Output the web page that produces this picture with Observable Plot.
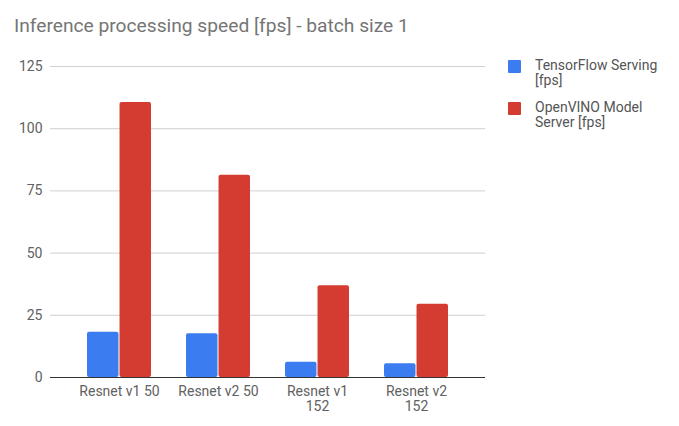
<!DOCTYPE html>
<html>
<head>
<meta charset="utf-8">
<script src="https://cdn.jsdelivr.net/npm/d3@7"></script>
<script src="https://cdn.jsdelivr.net/npm/@observablehq/plot@0.6"></script>
<style>
  body { margin: 0; background: #fff; font-family: Roboto, "Noto Sans", sans-serif; }
  #wrap { position: relative; width: 679px; height: 426px; }
  #title { position: absolute; left: 14px; top: 14px; font-size: 19.2px; color: #757575; white-space: nowrap; }
  #chart { position: absolute; left: 0; top: 50px; }
  #legend { position: absolute; left: 508px; top: 58px; font-size: 14px; color: #555; line-height: 15px; }
  .item { position: relative; padding-left: 27px; margin-bottom: 12px; }
  .sw { position: absolute; left: 0; top: 2px; width: 13px; height: 13px; border-radius: 1px; }
</style>
</head>
<body>
<div id="wrap">
  <div id="title">Inference processing speed [fps] - batch size 1</div>
  <div id="chart"></div>
  <div id="legend"></div>
</div>
<script>
const categories = ["Resnet v1 50", "Resnet v2 50", "Resnet v1 152", "Resnet v2 152"];
const tickLabels = ["Resnet v1 50", "Resnet v2 50", "Resnet v1\n152", "Resnet v2\n152"];
const seriesNames = ["TensorFlow Serving [fps]", "OpenVINO Model Server [fps]"];
const legendLabels = ["TensorFlow Serving<br>[fps]", "OpenVINO Model<br>Server [fps]"];
const tfServing = [18.2, 17.6, 6.1, 5.5];
const openVino = [110.5, 81.3, 36.9, 29.4];
const colors = ["#3b7cf0", "#d43c31"];
const yTicks = [0, 25, 50, 75, 100, 125];

const W = 679, mL = 50, mR = 194;
const padIn = 0.357, padOut = 0.362;
// half of each group's band, so the two series sit side by side within it
const half = d3.scaleBand().domain(categories).range([mL, W - mR])
  .paddingInner(padIn).paddingOuter(padOut).bandwidth() / 2;

const rows = categories.map((c, i) => ({category: c, tf: tfServing[i], ov: openVino[i]}));

const chart = Plot.plot({
  width: W,
  height: 376,
  marginLeft: mL,
  marginRight: mR,
  marginTop: 16,
  marginBottom: 49,
  style: {fontFamily: "Roboto, sans-serif", fontSize: "14px", color: "#616161"},
  x: {domain: categories, paddingInner: padIn, paddingOuter: padOut, label: null},
  y: {domain: [0, 125], ticks: yTicks, label: null},
  marks: [
    Plot.gridY(yTicks.filter(d => d > 0), {stroke: "#d0d0d0", strokeOpacity: 1, strokeWidth: 1}),
    Plot.axisY({ticks: yTicks, tickSize: 0, tickPadding: 8, label: null, fontSize: 14, fill: "#616161"}),
    Plot.axisX({tickSize: 0, tickPadding: 8, label: null, fontSize: 14, fill: "#616161", lineHeight: 1.05,
                tickFormat: d => tickLabels[categories.indexOf(d)]}),
    Plot.barY(rows, {x: "category", y: "tf", fill: colors[0], insetRight: half + 0.5, rx: 2}),
    Plot.barY(rows, {x: "category", y: "ov", fill: colors[1], insetLeft: half + 0.5, rx: 2}),
    Plot.ruleY([0], {stroke: "#333", strokeWidth: 1.2})
  ]
});
document.getElementById("chart").appendChild(chart);

const legend = document.getElementById("legend");
seriesNames.forEach((s, i) => {
  const d = document.createElement("div");
  d.className = "item";
  d.innerHTML = `<span class="sw" style="background:${colors[i]}"></span>${legendLabels[i]}`;
  legend.appendChild(d);
});
</script>
</body>
</html>
